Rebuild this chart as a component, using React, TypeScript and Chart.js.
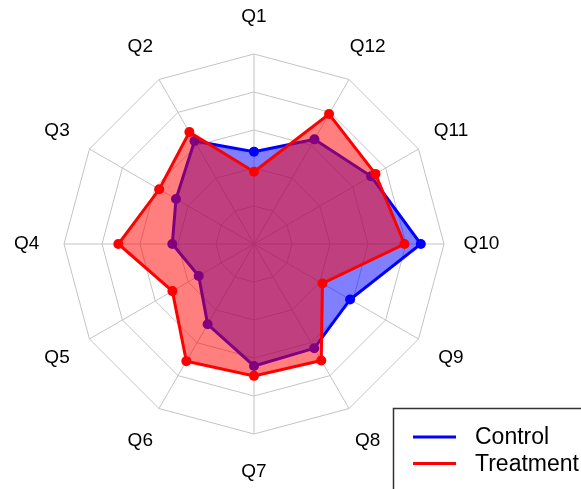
import React, { useEffect, useRef } from "react";
import { Chart, registerables } from "chart.js";

Chart.register(...registerables);

// Axis labels, clockwise from the top
const questions = ["Q1", "Q12", "Q11", "Q10", "Q9", "Q8", "Q7", "Q6", "Q5", "Q4", "Q3", "Q2"];
const controlValues = [2.43, 3.18, 3.56, 4.39, 2.92, 3.17, 3.21, 2.44, 1.68, 2.15, 2.37, 3.13];
const treatmentValues = [1.9, 3.95, 3.69, 3.96, 2.08, 3.54, 3.47, 3.56, 2.48, 3.57, 2.88, 3.4];
const seriesNames = ["Control", "Treatment"];
const seriesColors = ["#0000ff", "#ff0000"];
const seriesFills = ["rgba(0,0,255,0.5)", "rgba(255,0,0,0.5)"];
const scaleMax = 5;

const FONT = '"Liberation Sans", Arial, Helvetica, sans-serif';

const labelPlugin = {
  id: "centeredPointLabels",
  afterDraw(chart: any) {
    const scale = chart.scales.r;
    const ctx = chart.ctx;
    ctx.save();
    ctx.font = `19px ${FONT}`;
    ctx.fillStyle = "#000";
    ctx.textAlign = "center";
    ctx.textBaseline = "middle";
    const labels = chart.data.labels as string[];
    labels.forEach((lab, i) => {
      const p = scale.getPointPosition(i, scale.drawingArea * 1.197);
      ctx.fillText(lab, p.x, p.y);
    });
    ctx.restore();
  },
};

const legendPlugin = {
  id: "boxLegend",
  afterDraw(chart: any) {
    const ctx = chart.ctx;
    ctx.save();
    const x0 = 393.5;
    const y0 = 408.5;
    ctx.fillStyle = "#ffffff";
    ctx.fillRect(x0, y0, 300, 200);
    ctx.strokeStyle = "#333333";
    ctx.lineWidth = 1.5;
    ctx.strokeRect(x0, y0, 300, 200);
    ctx.font = `23px ${FONT}`;
    ctx.textAlign = "left";
    ctx.textBaseline = "middle";
    seriesNames.forEach((name, i) => {
      const y = 437 + i * 26.5;
      ctx.strokeStyle = seriesColors[i];
      ctx.lineWidth = 3;
      ctx.beginPath();
      ctx.moveTo(413, y);
      ctx.lineTo(456, y);
      ctx.stroke();
      ctx.fillStyle = "#000";
      ctx.fillText(name, 475, y + 1);
    });
    ctx.restore();
  },
};

export default function App() {
  const ref = useRef<HTMLCanvasElement | null>(null);
  useEffect(() => {
    if (!ref.current) return;
    const values = [controlValues, treatmentValues];
    const chart = new Chart(ref.current, {
      type: "radar",
      data: {
        labels: questions,
        datasets: seriesNames.map((name, i) => ({
          label: name,
          data: values[i],
          borderColor: seriesColors[i],
          backgroundColor: seriesFills[i],
          pointBackgroundColor: seriesColors[i],
          pointBorderWidth: 0,
          pointRadius: 5,
          borderWidth: 3,
          fill: true,
          tension: 0,
          order: 2 - i,
        })),
      },
      options: {
        responsive: false,
        animation: false,
        layout: { padding: { left: 64, right: 137, top: 54, bottom: 55 } },
        plugins: { legend: { display: false }, tooltip: { enabled: false } },
        scales: {
          r: {
            min: 0,
            max: scaleMax,
            ticks: { display: false, stepSize: 1 },
            pointLabels: { display: false },
            grid: { color: "#c4c4c4", lineWidth: 1 },
            angleLines: { color: "#c4c4c4", lineWidth: 1 },
          },
        },
      },
      plugins: [labelPlugin, legendPlugin],
    });
    return () => chart.destroy();
  }, []);
  return (
    <div style={{ position: "fixed", left: 0, top: 0, width: 581, height: 489, background: "#fff" }}>
      <canvas ref={ref} width={581} height={489} style={{ display: "block" }} />
    </div>
  );
}
